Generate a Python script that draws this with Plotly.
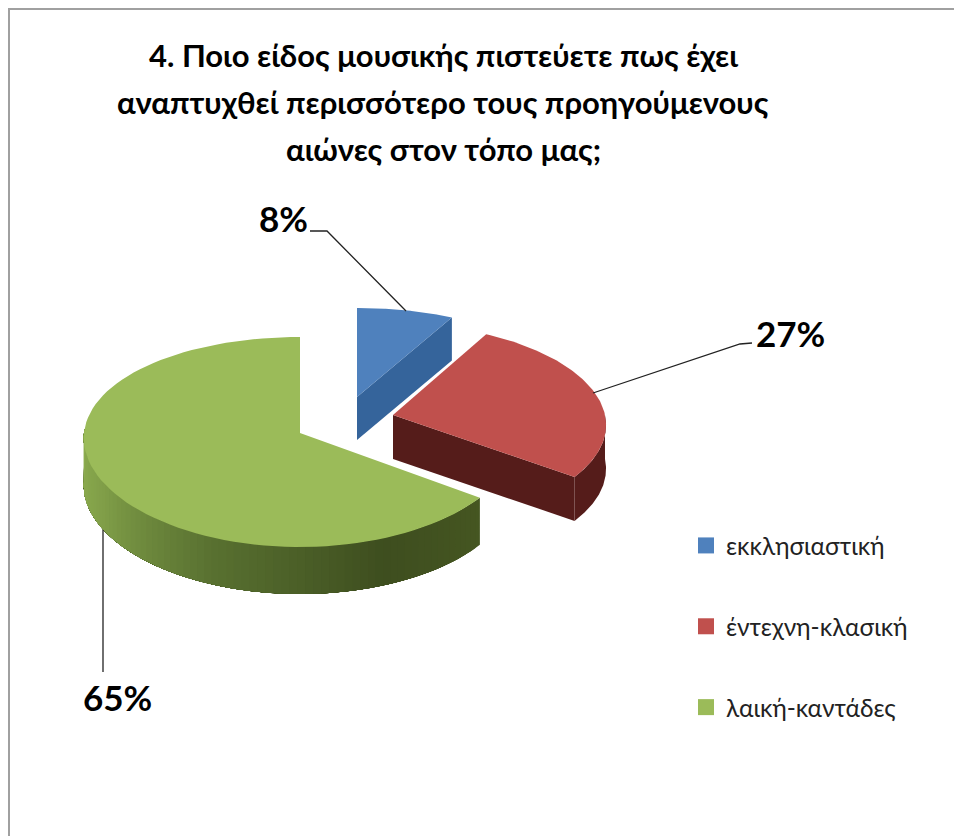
import numpy as np
import plotly.graph_objects as go

# ---- data ----
categories = ["εκκλησιαστική", "έντεχνη-κλασική", "λαική-καντάδες"]
percent_values = [8, 27, 65]
title_lines = [
    "4. Ποιο είδος μουσικής πιστεύετε πως έχει",
    "αναπτυχθεί περισσότερο τους προηγούμενους",
    "αιώνες στον τόπο μας;",
]

# ---- styling / projection (pixels of the 954x836 page) ----
TOP = ["#4f81bd", "#c0504d", "#9bbb59"]
WALL = ["#35649b", "#551c1a", None]
APEX = [(357, 397), (393, 415), (300, 433)]
RX = [206, 212, 216]
RY = [(103, 14), (100, 9), (105, 9)]
PERSPECTIVE = [0.05, 0.10, 0.05]
DEPTH = [43, 44, 47]
FONT = "Lato, 'Open Sans', 'Noto Sans', sans-serif"
W, H = 954, 836


def project(i, deg):
    t = np.radians(deg)
    cx, cy = APEX[i]
    a, b = RY[i]
    x = cx + RX[i] * np.sin(t) * (1 - PERSPECTIVE[i] * np.cos(t))
    y = cy - a * np.cos(t) + b * np.cos(t) ** 2
    return x, y


def arc(i, d0, d1, n=90):
    return project(i, np.linspace(d0, d1, n))


def poly(xs, ys, color):
    return go.Scatter(
        x=list(xs), y=list(ys), mode="lines", fill="toself", fillcolor=color,
        line=dict(color=color, width=0), hoverinfo="skip", showlegend=False,
    )


def mix(stops, f):
    pos = [s[0] for s in stops]
    chan = [np.interp(f, pos, [s[1][k] for s in stops]) for k in range(3)]
    return "rgb(%d,%d,%d)" % tuple(int(round(c)) for c in chan)


GREEN_RAMP = [
    (0.0, (69, 86, 33)), (0.22, (62, 78, 31)), (0.52, (88, 112, 48)),
    (0.8, (128, 158, 72)), (1.0, (142, 174, 80)),
]

edges = np.cumsum([0] + percent_values) * 3.6
fig = go.Figure()

for i in range(3):
    d0, d1 = edges[i], edges[i + 1]
    cx, cy = APEX[i]
    dz = DEPTH[i]
    ax, ay = arc(i, d0, d1)

    # radial wall and outer wall
    if i == 0:
        ex, ey = project(i, d1)
        fig.add_trace(poly([cx, ex, ex, cx, cx], [cy, ey, ey + dz, cy + dz, cy], WALL[i]))
    elif i == 1:
        ex, ey = project(i, d1)
        fig.add_trace(poly([cx, ex, ex, cx, cx], [cy, ey, ey + dz, cy + dz, cy], WALL[i]))
        wx, wy = arc(i, 90, d1)
        fig.add_trace(poly(np.r_[wx, wx[::-1]], np.r_[wy, wy[::-1] + dz], WALL[i]))
    else:
        steps = np.linspace(d0, 272, 73)
        # each band runs to the far end, so later bands paint over without seams
        for k in range(len(steps) - 1):
            wx, wy = arc(i, steps[k], 272, 80)
            colour = mix(GREEN_RAMP, k / (len(steps) - 2))
            fig.add_trace(poly(np.r_[wx, wx[::-1]], np.r_[wy, wy[::-1] + dz], colour))

    # top face
    fig.add_trace(poly(np.r_[cx, ax, cx], np.r_[cy, ay, cy], TOP[i]))

# leader lines
leaders = [
    ([310, 327, 406], [231, 231, 311]),
    ([752, 740, 593], [343, 344, 393]),
    ([103, 103], [530, 672]),
]
for lx, ly in leaders:
    fig.add_trace(go.Scatter(x=lx, y=ly, mode="lines", line=dict(color="#222222", width=1.3),
                             hoverinfo="skip", showlegend=False))

# data labels
label_pos = [(283, 218), (790, 333), (117, 697)]
for v, (x, y) in zip(percent_values, label_pos):
    fig.add_annotation(x=x, y=y, text=f"<b>{v}%</b>", showarrow=False,
                       font=dict(family=FONT, size=35, color="#000000"))

# title
for line, y in zip(title_lines, [55, 102, 149]):
    fig.add_annotation(x=443, y=y, text=f"<b>{line}</b>", showarrow=False,
                       font=dict(family=FONT, size=31, color="#000000"))

# legend
for name, colour in zip(categories, TOP):
    fig.add_trace(go.Scatter(
        x=[None], y=[None], mode="markers", name=name, legendgroup=name,
        marker=dict(symbol="square", size=16, color=colour),
    ))

# frame
fig.add_shape(type="line", x0=9, x1=9, y0=8, y1=836, line=dict(color="#a0a0a0", width=2))
fig.add_shape(type="line", x0=8, x1=954, y0=9, y1=9, line=dict(color="#a0a0a0", width=2))

fig.update_layout(
    width=W, height=H, autosize=False,
    margin=dict(l=0, r=0, t=0, b=0),
    paper_bgcolor="white", plot_bgcolor="white",
    xaxis=dict(range=[0, W], visible=False, fixedrange=True),
    yaxis=dict(range=[H, 0], visible=False, fixedrange=True),
    showlegend=True,
    legend=dict(x=686 / W, y=1 - 523 / H,
                xanchor="left", yanchor="top",
                tracegroupgap=46, bgcolor="rgba(0,0,0,0)",
                font=dict(family=FONT, size=24.5, color="#222222")),
)
fig.write_html(
    "out.html",
    config=dict(displayModeBar=False),
    post_script="document.body.style.margin='0';document.documentElement.style.overflow='hidden';",
)
